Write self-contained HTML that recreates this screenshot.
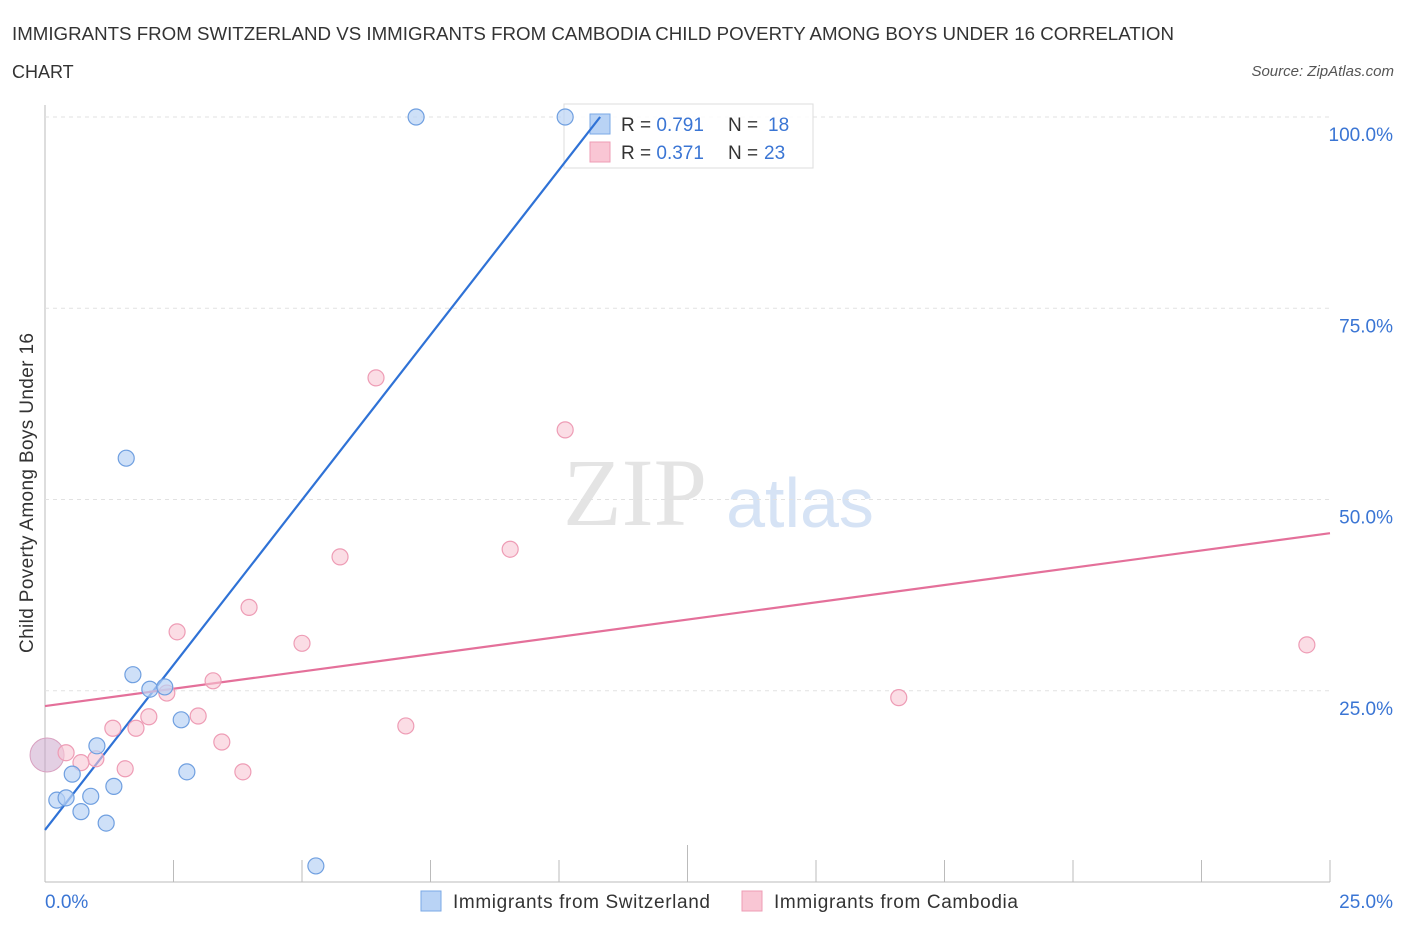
<!DOCTYPE html>
<html><head><meta charset="utf-8"><style>
body{margin:0;background:#fff;font-family:"Liberation Sans",sans-serif;}
svg text{font-family:"Liberation Sans",sans-serif;}
</style></head><body>
<svg id="c" width="1406" height="930" xmlns="http://www.w3.org/2000/svg">
<text x="12" y="40" font-size="18" fill="#333" textLength="1162" lengthAdjust="spacingAndGlyphs">IMMIGRANTS FROM SWITZERLAND VS IMMIGRANTS FROM CAMBODIA CHILD POVERTY AMONG BOYS UNDER 16 CORRELATION</text>
<text x="12" y="78" font-size="18" fill="#333">CHART</text>
<text x="1394" y="76" font-size="15" fill="#555" font-style="italic" text-anchor="end">Source: ZipAtlas.com</text>
<text x="635" y="525" font-size="96" fill="#e4e4e4" text-anchor="middle" style="font-family:'Liberation Serif',serif">ZIP</text>
<text x="800" y="527" font-size="70" fill="#d6e3f5" text-anchor="middle">atlas</text>
<text transform="translate(33,493) rotate(-90)" font-size="19" fill="#333" text-anchor="middle" textLength="320">Child Poverty Among Boys Under 16</text>
<g id="grid"></g>
<g>
<rect x="564" y="104" width="249" height="64" fill="#fff" fill-opacity="0.85" stroke="#ddd"/>
<rect x="590" y="114" width="20" height="20" fill="#b9d3f5" stroke="#7aa8e6"/>
<rect x="590" y="142" width="20" height="20" fill="#f9c6d4" stroke="#ee9cb5"/>
<text x="621" y="131" font-size="19" fill="#333">R = <tspan fill="#3a75d4">0.791</tspan></text>
<text x="728" y="131" font-size="19" fill="#333">N = <tspan x="768" fill="#3a75d4">18</tspan></text>
<text x="621" y="159" font-size="19" fill="#333">R = <tspan fill="#3a75d4">0.371</tspan></text>
<text x="728" y="159" font-size="19" fill="#333">N = <tspan x="764" fill="#3a75d4">23</tspan></text>
</g>
<g id="lines"></g><g id="pts"></g>
<g>
<rect x="421" y="891" width="20" height="20" fill="#b9d3f5" stroke="#7aa8e6"/>
<text x="453" y="908" font-size="19" fill="#333" textLength="257">Immigrants from Switzerland</text>
<rect x="742" y="891" width="20" height="20" fill="#f9c6d4" stroke="#ee9cb5"/>
<text x="774" y="908" font-size="19" fill="#333" textLength="244">Immigrants from Cambodia</text>
</g>
</svg>
<script>
const xTicks=[0,2.5,5,7.5,10,12.5,15,17.5,20,22.5,25];
const yTicks=[25,50,75,100];
const yTickLabels=["25.0%","50.0%","75.0%","100.0%"];
const swissX=[7.22,10.12,1.58,1.71,2.04,2.33,2.65,1.01,0.53,0.23,0.41,0.70,0.89,1.34,1.19,2.76,5.27];
const swissY=[100,100,55.4,27.1,25.2,25.5,21.2,17.8,14.1,10.7,11.0,9.2,11.2,12.5,7.7,14.4,2.1];
const cambX=[6.44,10.12,5.74,9.05,3.97,2.57,5.0,24.55,3.27,2.37,16.61,2.98,2.02,1.32,1.77,7.02,3.44,0.41,0.99,0.70,1.56,3.85];
const cambY=[65.9,59.1,42.5,43.5,35.9,32.7,31.2,31.0,26.3,24.7,24.1,21.7,21.6,20.1,20.1,20.4,18.3,16.9,16.1,15.6,14.8,14.4];
const bigPoint=[0.04,16.6];
const swissLine=[[0,6.8],[10.8,100]];
const cambLine=[[0,23.0],[25,45.6]];
const X=v=>45+v/25*1285, Y=v=>882-v/100*765;
const NS="http://www.w3.org/2000/svg";
function mk(p,t,a){const e=document.createElementNS(NS,t);for(const k in a)e.setAttribute(k,a[k]);document.getElementById(p).appendChild(e);return e;}
let ax=mk('grid','line',{x1:45,y1:105,x2:45,y2:882,stroke:'#bbb'});

let bx=mk('grid','line',{x1:45,y1:882,x2:1330,y2:882,stroke:'#bbb'});

yTicks.forEach((t,i)=>{
 let g=mk('grid','line',{x1:45,x2:1330,y1:Y(t),y2:Y(t),stroke:'#e2e2e2','stroke-dasharray':'4,4'});
 
 let l=mk('grid','text',{x:1393,y:Y(t)+24,'font-size':19,fill:'#3a75d4','text-anchor':'end'});
 l.textContent=yTickLabels[i];
 
});
xTicks.forEach((t,i)=>{
 let k=mk('grid','line',{x1:X(t),x2:X(t),y1:882,y2:i==5?845:860,stroke:'#bbb'});
 
});
let x0=mk('grid','text',{x:45,y:908,'font-size':19,fill:'#3a75d4'});x0.textContent='0.0%';

let x1=mk('grid','text',{x:1393,y:908,'font-size':19,fill:'#3a75d4','text-anchor':'end'});x1.textContent='25.0%';

let sl=mk('lines','line',{x1:X(swissLine[0][0]),y1:Y(swissLine[0][1]),x2:X(swissLine[1][0]),y2:Y(swissLine[1][1]),stroke:'#2f72d6','stroke-width':2.2});

let cl=mk('lines','line',{x1:X(cambLine[0][0]),y1:Y(cambLine[0][1]),x2:X(cambLine[1][0]),y2:Y(cambLine[1][1]),stroke:'#e4709a','stroke-width':2.2});

let bp=mk('pts','circle',{cx:X(bigPoint[0]),cy:Y(bigPoint[1]),r:17,fill:'rgba(200,160,200,0.5)',stroke:'#d9a0c0'});

cambX.forEach((v,i)=>{
 let c=mk('pts','circle',{cx:X(v),cy:Y(cambY[i]),r:8,fill:'rgba(249,198,212,0.6)',stroke:'#ee9cb5','stroke-width':1.2});
 
});
swissX.forEach((v,i)=>{
 let c=mk('pts','circle',{cx:X(v),cy:Y(swissY[i]),r:8,fill:'rgba(185,211,245,0.7)',stroke:'#6f9fe0','stroke-width':1.2});
 
});
</script>
</body></html>
